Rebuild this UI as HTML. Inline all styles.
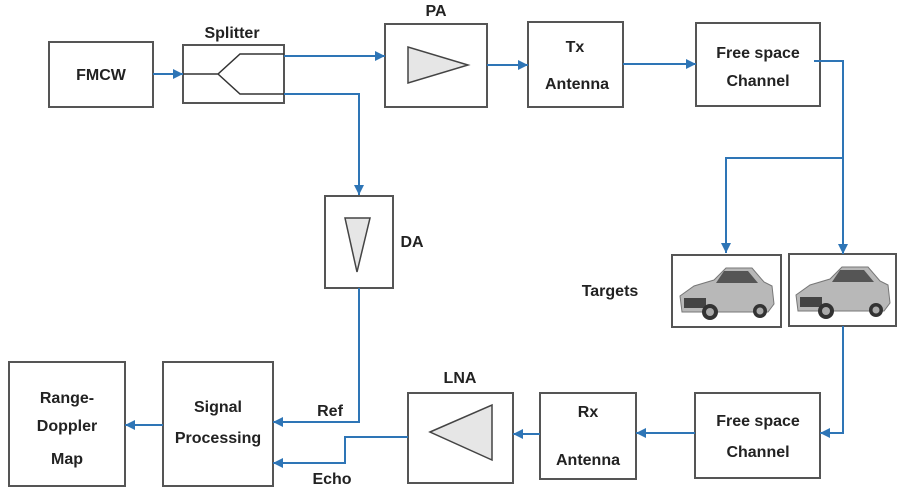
<!DOCTYPE html>
<html><head><style>body{margin:0;background:#fff}svg{display:block}text{font-family:"Liberation Sans",sans-serif;font-weight:bold;font-size:16px;fill:#222}</style></head><body>
<svg width="900" height="491" viewBox="0 0 900 491" xmlns="http://www.w3.org/2000/svg">
<defs><marker id="a" markerWidth="6" markerHeight="6" refX="5" refY="3" orient="auto"><path d="M0,0.5 L5,3 L0,5.5z" fill="#2e75b6"/></marker>
<g id="car"><path d="M-44,20 L-46,4 L-32,-6 L-12,-12 L0,-24 L26,-24 L38,-10 L46,-6 L48,12 L42,20z" fill="#b8b8b8" stroke="#777"/><path d="M-2,-21 L22,-21 L32,-9 L-10,-9z" fill="#555"/><rect x="-42" y="6" width="22" height="10" fill="#444"/><circle cx="-16" cy="20" r="8" fill="#333"/><circle cx="34" cy="19" r="7" fill="#333"/><circle cx="-16" cy="20" r="4" fill="#aaa"/><circle cx="34" cy="19" r="3.5" fill="#aaa"/></g></defs>
<g fill="none" stroke="#555" stroke-width="2">
<rect x="49" y="42" width="104" height="65"/><rect x="183" y="45" width="101" height="58"/>
<rect x="385" y="24" width="102" height="83"/><rect x="528" y="22" width="95" height="85"/>
<rect x="696" y="23" width="124" height="83"/><rect x="325" y="196" width="68" height="92"/>
<rect x="672" y="255" width="109" height="72"/><rect x="789" y="254" width="107" height="72"/>
<rect x="9" y="362" width="116" height="124"/><rect x="163" y="362" width="110" height="124"/>
<rect x="408" y="393" width="105" height="90"/><rect x="540" y="393" width="96" height="86"/>
<rect x="695" y="393" width="125" height="85"/>
<path d="M183,74 H218 L240,54 H284 M218,74 L240,94 H284" stroke="#333" stroke-width="1.5"/>
</g>
<g fill="#e6e6e6" stroke="#444" stroke-width="1.5">
<path d="M408,47 L408,83 L468,65z"/><path d="M345,218 L370,218 L357,272z"/><path d="M430,432 L492,405 L492,460z"/>
</g>
<use href="#car" x="726" y="292"/><use href="#car" x="842" y="291"/>
<g fill="none" stroke="#2e75b6" stroke-width="2" marker-end="url(#a)">
<path d="M153,74 H183"/><path d="M284,56 H385"/><path d="M284,94 H359 V195"/>
<path d="M487,65 H528"/><path d="M623,64 H696"/>
<path d="M814,61 H843 V254"/><path d="M843,158 H726 V253"/>
<path d="M843,326 V433 H820"/><path d="M695,433 H636"/><path d="M540,434 H513"/>
<path d="M408,437 H345 V463 H273"/><path d="M359,288 V422 H273"/><path d="M163,425 H125"/>
</g>
<g text-anchor="middle">
<text x="101" y="80">FMCW</text><text x="232" y="38">Splitter</text><text x="436" y="16">PA</text>
<text x="575" y="52">Tx</text><text x="577" y="89">Antenna</text>
<text x="758" y="58">Free space</text><text x="758" y="86">Channel</text>
<text x="412" y="247">DA</text><text x="610" y="296">Targets</text>
<text x="67" y="403">Range-</text><text x="67" y="431">Doppler</text><text x="67" y="464">Map</text>
<text x="218" y="412">Signal</text><text x="218" y="443">Processing</text>
<text x="330" y="416">Ref</text><text x="332" y="484">Echo</text><text x="460" y="383">LNA</text>
<text x="588" y="417">Rx</text><text x="588" y="465">Antenna</text>
<text x="758" y="426">Free space</text><text x="758" y="457">Channel</text>
</g>
</svg>
</body></html>
